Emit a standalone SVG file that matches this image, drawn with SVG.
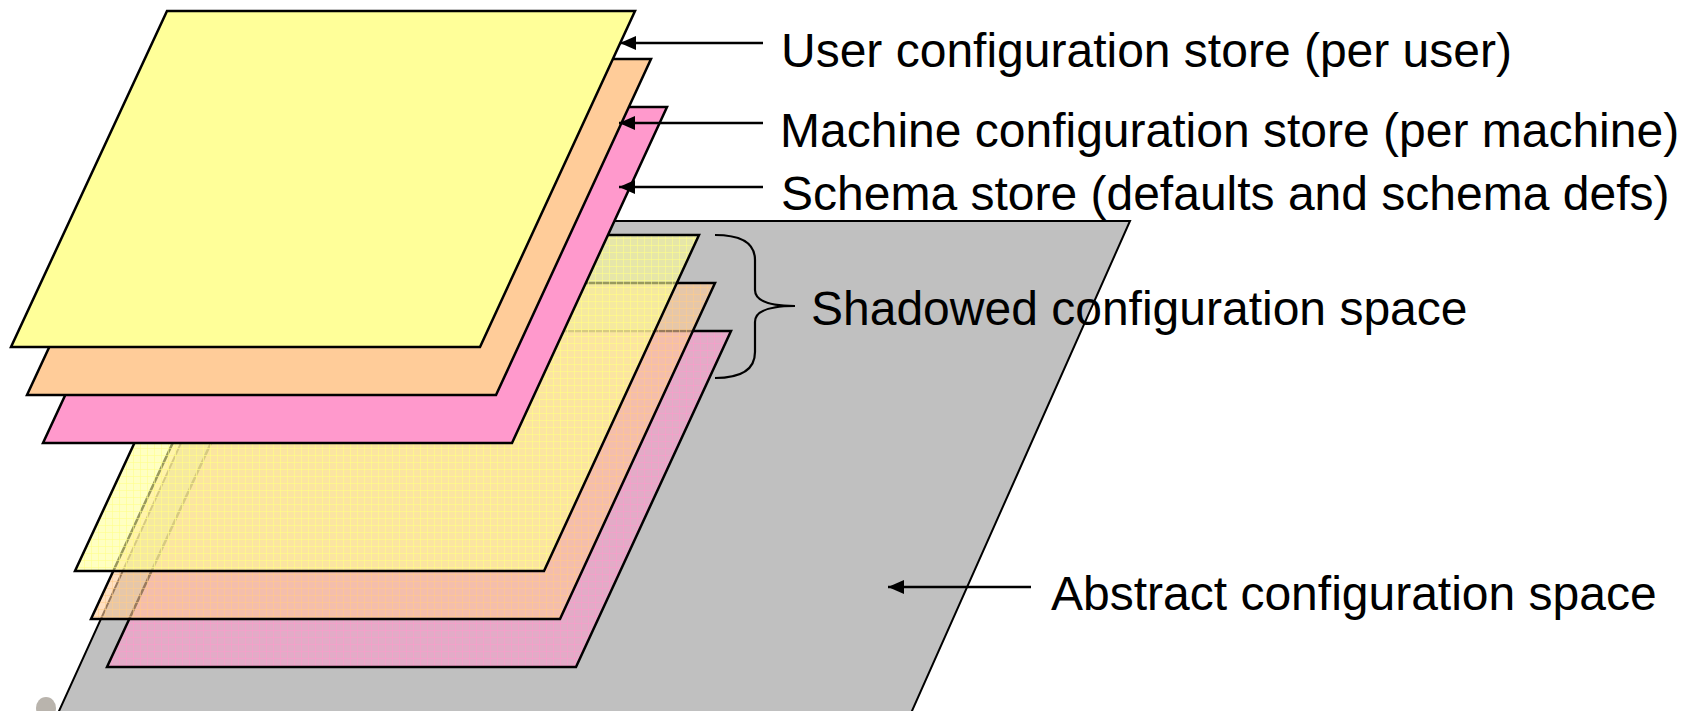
<svg xmlns="http://www.w3.org/2000/svg" width="1694" height="711" viewBox="0 0 1694 711">
<style>
.plane{stroke:#000;stroke-width:2.5;stroke-linejoin:miter}
.lbl{font-family:"Liberation Sans",Arial,sans-serif;font-size:48px;fill:#000}
.arr{stroke:#000;stroke-width:2.5;fill:none}
.brace{stroke:#000;stroke-width:2.2;fill:none}
</style>
<defs>
<marker id="ah" markerUnits="userSpaceOnUse" markerWidth="17" markerHeight="15" refX="16" refY="7" orient="auto">
<path d="M0,0 L16,7 L0,14 z" fill="#000"/>
</marker>
<pattern id="py" width="7" height="7" patternUnits="userSpaceOnUse">
<rect width="7" height="7" fill="#FFFF99" fill-opacity="0.6"/>
<path d="M0,0.5H7M0.5,0V7" stroke="#FFFF88" stroke-opacity="0.55" stroke-width="1"/>
</pattern>
<pattern id="po" width="7" height="7" patternUnits="userSpaceOnUse">
<rect width="7" height="7" fill="#FFCC99" fill-opacity="0.6"/>
<path d="M0,0.5H7M0.5,0V7" stroke="#FFCC88" stroke-opacity="0.55" stroke-width="1"/>
</pattern>
<pattern id="pp" width="7" height="7" patternUnits="userSpaceOnUse">
<rect width="7" height="7" fill="#FF99CC" fill-opacity="0.55"/>
<path d="M0,0.5H7M0.5,0V7" stroke="#FF99CC" stroke-opacity="0.5" stroke-width="1"/>
</pattern>
</defs>
<rect width="1694" height="711" fill="#fff"/>
<ellipse cx="46" cy="708" rx="10" ry="11" fill="#ada79f" opacity="0.85"/>
<g id="abstract-space">
<polygon points="282,221 1130,221 903.5,730 50.4,730" fill="#C0C0C0" stroke="#000" stroke-width="2"/>
</g>
<g id="shadow-schema">
<polygon class="plane" points="263,331 731,331 576,667 107,667" fill="url(#pp)"/>
</g>
<g id="shadow-machine">
<polygon class="plane" points="247,283 715,283 560,619 91,619" fill="url(#po)"/>
</g>
<g id="shadow-user">
<polygon class="plane" points="231,235 699,235 544,571 75,571" fill="url(#py)"/>
</g>
<g id="schema-store">
<polygon class="plane" points="199,107 667,107 512,443 43,443" fill="#FF99CC"/>
</g>
<g id="machine-store">
<polygon class="plane" points="183,59 651,59 496,395 27,395" fill="#FFCC99"/>
</g>
<g id="user-store">
<polygon class="plane" points="167,11 635,11 480,347 11,347" fill="#FFFF99"/>
</g>
<g id="connectors">
<line class="arr" x1="763" y1="43" x2="620" y2="43" marker-end="url(#ah)"/>
<line class="arr" x1="763" y1="123" x2="619" y2="123" marker-end="url(#ah)"/>
<line class="arr" x1="763" y1="187" x2="619" y2="187" marker-end="url(#ah)"/>
<line class="arr" x1="1031" y1="587" x2="888" y2="587" marker-end="url(#ah)"/>
<path class="brace" d="M715,235 Q755,235 755,260 L755,290 Q755,306 795,306 Q755,306 755,322 L755,352 Q755,378 715,378"/>
</g>
<g id="labels">
<text class="lbl" x="781" y="67">User configuration store (per user)</text>
<text class="lbl" x="780" y="147">Machine configuration store (per machine)</text>
<text class="lbl" x="781" y="210">Schema store (defaults and schema defs)</text>
<text class="lbl" x="811" y="325">Shadowed configuration space</text>
<text class="lbl" x="1051" y="610">Abstract configuration space</text>
</g>
</svg>
